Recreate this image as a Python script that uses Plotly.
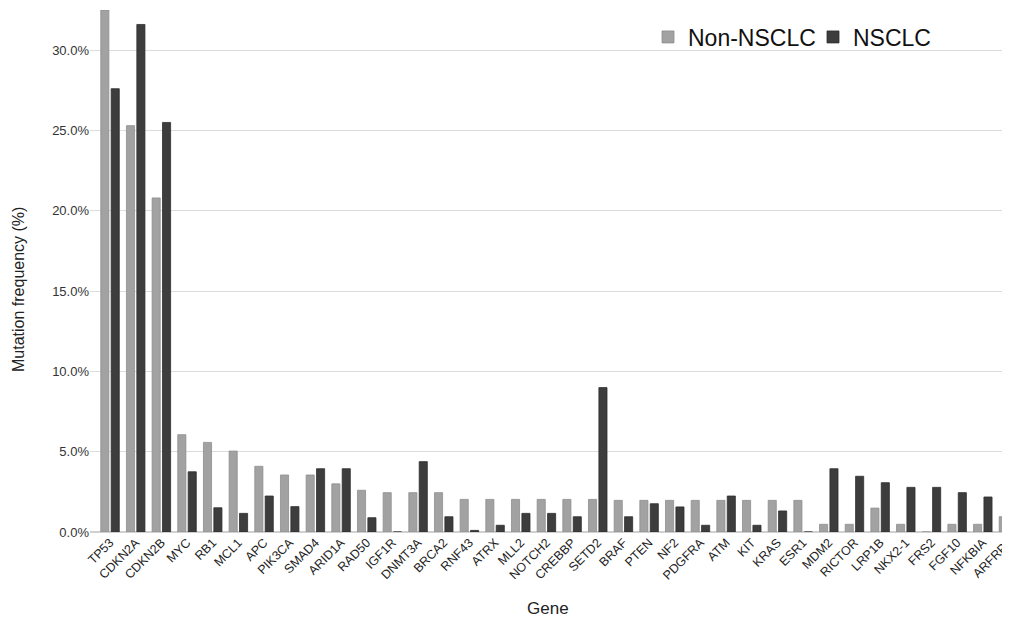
import plotly.graph_objects as go

genes = ["TP53", "CDKN2A", "CDKN2B", "MYC", "RB1", "MCL1", "APC", "PIK3CA", "SMAD4",
         "ARID1A", "RAD50", "IGF1R", "DNMT3A", "BRCA2", "RNF43", "ATRX", "MLL2", "NOTCH2",
         "CREBBP", "SETD2", "BRAF", "PTEN", "NF2", "PDGFRA", "ATM", "KIT", "KRAS", "ESR1",
         "MDM2", "RICTOR", "LRP1B", "NKX2-1", "FRS2", "FGF10", "NFKBIA", "ARFRP1"]

non_nsclc = [32.5, 25.3, 20.8, 6.06, 5.58, 5.04, 4.09, 3.55, 3.55,
             3.0, 2.6, 2.45, 2.45, 2.45, 2.03, 2.03, 2.03, 2.03,
             2.03, 2.03, 1.97, 1.97, 1.97, 1.97, 1.97, 1.97, 1.97, 1.97,
             0.48, 0.48, 1.49, 0.48, 0.0, 0.48, 0.48, 0.95]

nsclc = [27.6, 31.6, 25.5, 3.75, 1.51, 1.16, 2.24, 1.58, 3.94,
         3.94, 0.89, 0.0, 4.38, 0.95, 0.1, 0.42, 1.16, 1.16,
         0.95, 8.99, 0.95, 1.76, 1.56, 0.42, 2.24, 0.42, 1.31, 0.0,
         3.94, 3.47, 3.07, 2.78, 2.78, 2.45, 2.18, 2.05]

y_ticks = [0, 5, 10, 15, 20, 25, 30]
y_tick_labels = ["0.0%", "5.0%", "10.0%", "15.0%", "20.0%", "25.0%", "30.0%"]

# page offset (browser body margin)
OFF = 8
W, H = 1010 - OFF, 621 - OFF
ML, MR, MT, MB = 90 - OFF, 0, 10 - OFF, 89
plot_w = W - ML - MR
plot_h = H - MT - MB


def px_to_paper(px, py):
    fx = px - OFF
    fy = py - OFF
    return (fx - ML) / plot_w, (H - MB - fy) / plot_h


fig = go.Figure()
fig.add_trace(go.Bar(x=genes, y=non_nsclc, name="Non-NSCLC",
                     marker=dict(color="#a2a2a2", line=dict(color="#8e8e8e", width=0.8))))
fig.add_trace(go.Bar(x=genes, y=nsclc, name="NSCLC",
                     marker=dict(color="#3d3d3d", line=dict(color="#2e2e2e", width=0.8))))

lx, ly = px_to_paper(648, 37)

fig.update_layout(
    width=W, height=H,
    margin=dict(l=ML, r=MR, t=MT, b=MB, pad=0, autoexpand=False),
    paper_bgcolor="white", plot_bgcolor="white",
    barmode="group", bargap=0.19, bargroupgap=0.22,
    font=dict(family="Liberation Sans, Arial, sans-serif", color="#222222"),
    showlegend=True,
    legend=dict(orientation="h", x=lx, y=ly, xanchor="left", yanchor="middle",
                font=dict(size=23, color="#111111"), bgcolor="rgba(0,0,0,0)",
                traceorder="normal", entrywidth=120, entrywidthmode="pixels"),
    xaxis=dict(range=[-0.78, 35.06], tickangle=-45, tickfont=dict(size=12.5, color="#222222"),
               showgrid=False, showline=False, ticks="", automargin=False),
    yaxis=dict(range=[0, 32.5], tickvals=y_ticks, ticktext=y_tick_labels,
               tickfont=dict(size=13, color="#333333"), showgrid=True,
               gridcolor="#dcdcdc", gridwidth=1, zeroline=True, zerolinecolor="#d0d0d0",
               showline=False, ticks="", automargin=False),
)

tx, ty = px_to_paper(18, 290)
fig.add_annotation(text="Mutation frequency (%)", textangle=-90, x=tx, y=ty,
                   xref="paper", yref="paper", xanchor="center", yanchor="middle",
                   showarrow=False, font=dict(size=16, color="#222222"))
gx, gy = px_to_paper(548, 608)
fig.add_annotation(text="Gene", x=gx, y=gy, xref="paper", yref="paper",
                   xanchor="center", yanchor="middle", showarrow=False,
                   font=dict(size=17, color="#222222"))

fig.write_html("out.html")
